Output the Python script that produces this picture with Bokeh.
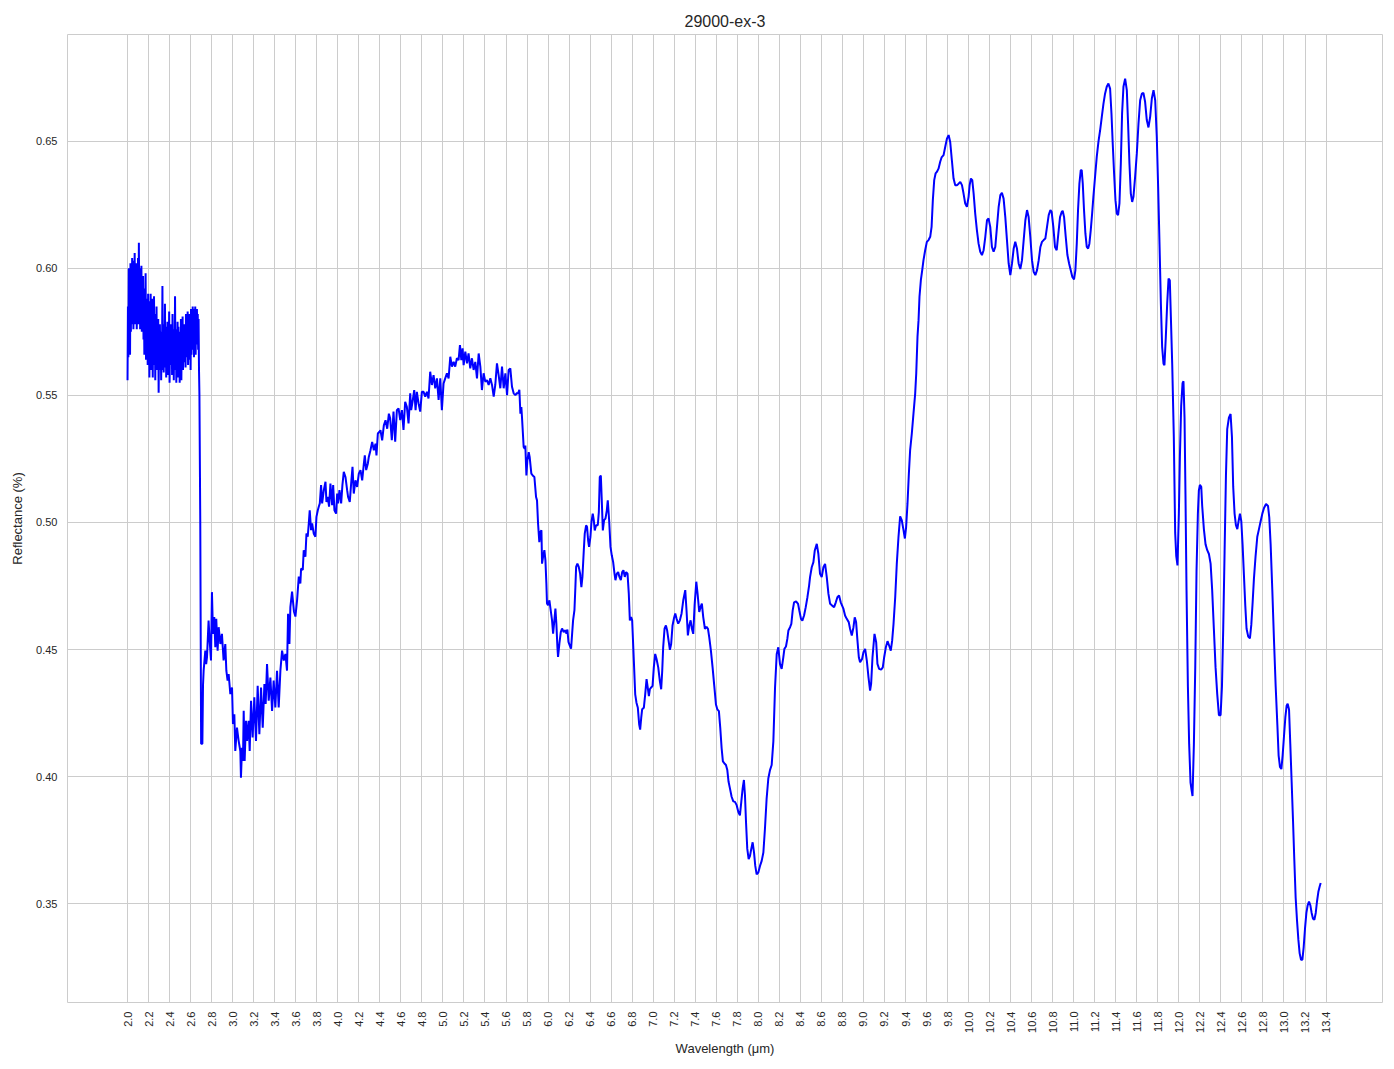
from bokeh.plotting import figure
from bokeh.models import FixedTicker, PrintfTickFormatter, Range1d, ColumnDataSource
from bokeh.embed import file_html
from bokeh.resources import INLINE
import math

TITLE = "29000-ex-3"
X_LABEL = "Wavelength (μm)"
Y_LABEL = "Reflectance (%)"

x_ticks = [2.0, 2.2, 2.4, 2.6, 2.8, 3.0, 3.2, 3.4, 3.6, 3.8, 4.0, 4.2, 4.4, 4.6, 4.8, 5.0,
           5.2, 5.4, 5.6, 5.8, 6.0, 6.2, 6.4, 6.6, 6.8, 7.0, 7.2, 7.4, 7.6, 7.8, 8.0, 8.2,
           8.4, 8.6, 8.8, 9.0, 9.2, 9.4, 9.6, 9.8, 10.0, 10.2, 10.4, 10.6, 10.8, 11.0, 11.2,
           11.4, 11.6, 11.8, 12.0, 12.2, 12.4, 12.6, 12.8, 13.0, 13.2, 13.4]
y_ticks = [0.35, 0.40, 0.45, 0.50, 0.55, 0.60, 0.65]

# (wavelength um, reflectance)
seg_noisy_start = [
    (2.000, 0.556), (2.004, 0.585), (2.008, 0.565), (2.012, 0.600), (2.016, 0.572), (2.020, 0.598),
    (2.024, 0.566), (2.028, 0.602), (2.032, 0.575), (2.036, 0.600), (2.040, 0.578), (2.044, 0.604),
    (2.048, 0.580), (2.052, 0.598), (2.056, 0.576), (2.060, 0.603), (2.064, 0.585), (2.068, 0.606),
    (2.072, 0.578), (2.076, 0.600), (2.080, 0.582), (2.084, 0.602), (2.088, 0.576), (2.092, 0.597),
    (2.096, 0.584), (2.100, 0.604), (2.104, 0.578), (2.108, 0.610), (2.112, 0.582), (2.116, 0.600),
    (2.120, 0.576), (2.124, 0.596), (2.128, 0.583), (2.132, 0.601), (2.136, 0.575), (2.140, 0.594),
    (2.144, 0.580), (2.148, 0.597), (2.152, 0.572), (2.156, 0.590), (2.160, 0.566), (2.164, 0.592),
    (2.168, 0.574), (2.172, 0.598), (2.176, 0.564), (2.180, 0.588), (2.184, 0.570), (2.188, 0.586),
    (2.192, 0.562), (2.196, 0.590), (2.200, 0.568), (2.204, 0.587), (2.208, 0.557), (2.212, 0.585),
    (2.216, 0.566), (2.220, 0.590), (2.224, 0.560), (2.228, 0.583), (2.232, 0.568), (2.236, 0.588),
    (2.240, 0.557), (2.244, 0.580), (2.248, 0.565), (2.252, 0.589), (2.256, 0.562), (2.260, 0.578),
    (2.264, 0.556), (2.268, 0.582), (2.272, 0.566), (2.276, 0.585), (2.280, 0.560), (2.284, 0.577),
    (2.288, 0.564), (2.292, 0.580), (2.296, 0.551), (2.300, 0.573), (2.304, 0.560), (2.308, 0.578),
    (2.312, 0.562), (2.316, 0.575), (2.320, 0.556), (2.324, 0.572), (2.328, 0.565), (2.332, 0.593),
    (2.336, 0.560), (2.340, 0.578), (2.344, 0.559), (2.348, 0.574), (2.352, 0.565), (2.356, 0.586),
    (2.360, 0.561), (2.364, 0.577), (2.368, 0.557), (2.372, 0.573), (2.376, 0.563), (2.380, 0.579),
    (2.384, 0.558), (2.388, 0.576), (2.392, 0.566), (2.396, 0.583), (2.400, 0.555), (2.404, 0.574),
    (2.408, 0.562), (2.412, 0.578), (2.416, 0.566), (2.420, 0.575), (2.424, 0.558), (2.428, 0.582),
    (2.432, 0.564), (2.436, 0.576), (2.440, 0.556), (2.444, 0.573), (2.448, 0.565), (2.452, 0.589),
    (2.456, 0.560), (2.460, 0.576), (2.464, 0.555), (2.468, 0.574), (2.472, 0.563), (2.476, 0.579),
    (2.480, 0.557), (2.484, 0.577), (2.488, 0.562), (2.492, 0.575), (2.496, 0.555), (2.500, 0.572),
    (2.504, 0.562), (2.508, 0.580), (2.512, 0.556), (2.516, 0.574), (2.520, 0.565), (2.524, 0.581),
    (2.528, 0.560), (2.532, 0.575), (2.536, 0.566), (2.540, 0.578), (2.544, 0.563), (2.548, 0.574),
    (2.552, 0.561), (2.556, 0.582), (2.560, 0.565), (2.564, 0.577), (2.568, 0.568), (2.572, 0.583),
    (2.576, 0.562), (2.580, 0.575), (2.584, 0.566), (2.588, 0.582), (2.592, 0.564), (2.596, 0.580),
    (2.600, 0.560), (2.604, 0.584), (2.608, 0.566), (2.612, 0.582), (2.616, 0.568), (2.620, 0.585),
    (2.624, 0.570), (2.628, 0.582), (2.632, 0.565), (2.636, 0.584), (2.640, 0.572), (2.644, 0.585),
    (2.648, 0.566), (2.652, 0.583), (2.656, 0.570), (2.660, 0.584), (2.664, 0.574), (2.668, 0.582),
    (2.672, 0.568), (2.676, 0.580), (2.680, 0.560), (2.684, 0.550), (2.692, 0.500), (2.700, 0.413),
    (2.712, 0.413), (2.718, 0.436),
]

seg_trough = [
    (2.724, 0.4417), (2.740, 0.4496), (2.748, 0.4443), (2.756, 0.4470), (2.771, 0.4614), (2.781, 0.4536),
    (2.794, 0.4457), (2.803, 0.4726), (2.813, 0.4562), (2.825, 0.4628), (2.835, 0.4509), (2.844, 0.4621),
    (2.857, 0.4496), (2.867, 0.4588), (2.883, 0.4522), (2.898, 0.4562), (2.914, 0.4457), (2.930, 0.4522),
    (2.940, 0.4417), (2.952, 0.4378), (2.962, 0.4404), (2.978, 0.4325), (2.994, 0.4351), (3.003, 0.4207),
    (3.016, 0.4246), (3.025, 0.4101), (3.041, 0.4193), (3.057, 0.4141), (3.073, 0.4101), (3.079, 0.3996),
    (3.089, 0.4114), (3.098, 0.4062), (3.105, 0.4259), (3.114, 0.4062), (3.127, 0.4220), (3.137, 0.4141),
    (3.152, 0.4220), (3.162, 0.4101), (3.175, 0.4299), (3.190, 0.4154), (3.206, 0.4312), (3.222, 0.4141),
    (3.238, 0.4358), (3.254, 0.4167), (3.270, 0.4351), (3.286, 0.4193), (3.302, 0.4364), (3.314, 0.4286),
    (3.327, 0.4443), (3.343, 0.4299), (3.359, 0.4390), (3.375, 0.4259), (3.390, 0.4378), (3.406, 0.4272),
    (3.422, 0.4417), (3.438, 0.4272), (3.454, 0.4417), (3.470, 0.4496), (3.486, 0.4457), (3.502, 0.4483),
    (3.517, 0.4417), (3.527, 0.4641), (3.540, 0.4522), (3.549, 0.4667),
]

seg_rise = [
    (3.565, 0.4728), (3.583, 0.4650), (3.597, 0.4630), (3.613, 0.4695), (3.629, 0.4787), (3.644, 0.4760),
    (3.651, 0.4819), (3.667, 0.4813), (3.676, 0.4891), (3.692, 0.4865), (3.702, 0.4957), (3.714, 0.4944),
    (3.724, 0.4996), (3.733, 0.5048), (3.746, 0.4970), (3.756, 0.4996), (3.771, 0.4957), (3.787, 0.4944),
    (3.797, 0.5022), (3.810, 0.5048), (3.819, 0.5062), (3.829, 0.5075), (3.841, 0.5147), (3.851, 0.5075),
    (3.867, 0.5127), (3.883, 0.5160), (3.892, 0.5081), (3.905, 0.5101), (3.917, 0.5062), (3.930, 0.5153),
    (3.946, 0.5068), (3.956, 0.5147), (3.968, 0.5048), (3.984, 0.5035), (3.994, 0.5114), (4.003, 0.5075),
    (4.016, 0.5127), (4.032, 0.5075), (4.044, 0.5147), (4.057, 0.5199), (4.073, 0.5179), (4.089, 0.5127),
    (4.098, 0.5101), (4.114, 0.5081), (4.127, 0.5153), (4.140, 0.5219), (4.152, 0.5114), (4.168, 0.5166),
    (4.184, 0.5140), (4.200, 0.5192), (4.216, 0.5206), (4.232, 0.5166), (4.248, 0.5232), (4.257, 0.5264),
    (4.270, 0.5206), (4.286, 0.5232), (4.295, 0.5258), (4.311, 0.5284), (4.327, 0.5317), (4.343, 0.5284),
    (4.359, 0.5310), (4.368, 0.5264), (4.381, 0.5350), (4.394, 0.5356), (4.406, 0.5363), (4.422, 0.5323),
    (4.438, 0.5382), (4.454, 0.5402), (4.470, 0.5369), (4.486, 0.5428),
]

seg_plateau = [
    (4.498, 0.5410), (4.514, 0.5324), (4.530, 0.5436), (4.546, 0.5318), (4.562, 0.5442), (4.578, 0.5449),
    (4.594, 0.5403), (4.610, 0.5442), (4.625, 0.5364), (4.641, 0.5475), (4.657, 0.5455), (4.673, 0.5390),
    (4.689, 0.5508), (4.698, 0.5442), (4.711, 0.5475), (4.727, 0.5521), (4.740, 0.5442), (4.752, 0.5514),
    (4.768, 0.5469), (4.784, 0.5436), (4.800, 0.5514), (4.816, 0.5514), (4.832, 0.5495), (4.848, 0.5514),
    (4.863, 0.5488), (4.879, 0.5593), (4.895, 0.5541), (4.911, 0.5580), (4.927, 0.5528), (4.943, 0.5567),
    (4.959, 0.5482), (4.975, 0.5567), (4.990, 0.5442), (5.006, 0.5547), (5.022, 0.5567), (5.038, 0.5587),
    (5.054, 0.5567), (5.070, 0.5652), (5.086, 0.5613), (5.102, 0.5632), (5.117, 0.5613), (5.133, 0.5646),
    (5.149, 0.5639), (5.162, 0.5698), (5.175, 0.5639), (5.187, 0.5685), (5.197, 0.5619), (5.213, 0.5672),
    (5.229, 0.5626), (5.244, 0.5665), (5.260, 0.5606), (5.276, 0.5646), (5.292, 0.5600), (5.308, 0.5632),
    (5.324, 0.5567), (5.340, 0.5665), (5.356, 0.5613), (5.371, 0.5521), (5.387, 0.5587), (5.403, 0.5554),
    (5.419, 0.5560), (5.435, 0.5541), (5.451, 0.5567), (5.467, 0.5541), (5.483, 0.5495), (5.498, 0.5541),
    (5.514, 0.5626), (5.530, 0.5580), (5.546, 0.5528), (5.562, 0.5613), (5.578, 0.5528), (5.594, 0.5587),
    (5.610, 0.5501), (5.625, 0.5600), (5.641, 0.5606), (5.657, 0.5534), (5.673, 0.5508), (5.689, 0.5501),
]

seg_descent = [
    (5.705, 0.5510), (5.714, 0.5507), (5.727, 0.5522), (5.737, 0.5428), (5.746, 0.5454), (5.752, 0.5415),
    (5.768, 0.5297), (5.778, 0.5290), (5.784, 0.5303), (5.794, 0.5185), (5.803, 0.5244), (5.816, 0.5277),
    (5.825, 0.5258), (5.841, 0.5192), (5.854, 0.5185), (5.870, 0.5179), (5.886, 0.5100), (5.895, 0.5087),
    (5.905, 0.4995), (5.917, 0.4923), (5.927, 0.4963), (5.937, 0.4969), (5.943, 0.4838), (5.952, 0.4864),
    (5.965, 0.4891), (5.975, 0.4851), (5.984, 0.4760), (5.990, 0.4681), (6.000, 0.4674), (6.013, 0.4694),
    (6.025, 0.4655), (6.038, 0.4615), (6.048, 0.4563), (6.060, 0.4615), (6.070, 0.4661), (6.079, 0.4602),
    (6.089, 0.4510), (6.095, 0.4471), (6.108, 0.4524), (6.121, 0.4569), (6.133, 0.4583), (6.149, 0.4569),
    (6.165, 0.4576), (6.175, 0.4563), (6.184, 0.4579), (6.194, 0.4530), (6.206, 0.4517), (6.219, 0.4504),
    (6.229, 0.4563), (6.238, 0.4615), (6.251, 0.4655), (6.260, 0.4746), (6.267, 0.4825), (6.279, 0.4838),
    (6.292, 0.4825), (6.305, 0.4799), (6.317, 0.4746), (6.327, 0.4786), (6.340, 0.4891), (6.349, 0.4956),
    (6.362, 0.4989), (6.371, 0.4982), (6.381, 0.4930), (6.390, 0.4904), (6.403, 0.4943), (6.413, 0.5002),
    (6.425, 0.5035), (6.435, 0.5009), (6.444, 0.4969), (6.457, 0.4989), (6.473, 0.4989), (6.483, 0.5041),
    (6.492, 0.5179), (6.502, 0.5185), (6.511, 0.5087), (6.521, 0.4969), (6.533, 0.5009), (6.546, 0.5015),
    (6.559, 0.5048), (6.568, 0.5087), (6.581, 0.5009), (6.594, 0.4904), (6.606, 0.4871), (6.619, 0.4845),
    (6.632, 0.4799), (6.641, 0.4773), (6.654, 0.4799), (6.667, 0.4805), (6.679, 0.4786), (6.692, 0.4773),
    (6.705, 0.4805), (6.717, 0.4812), (6.730, 0.4786), (6.743, 0.4805), (6.756, 0.4799), (6.768, 0.4720),
    (6.778, 0.4615), (6.790, 0.4628), (6.800, 0.4615),
]

seg_dip = [
    (6.816, 0.4456), (6.829, 0.4324), (6.841, 0.4291), (6.854, 0.4271), (6.867, 0.4205), (6.876, 0.4185),
    (6.886, 0.4231), (6.895, 0.4265), (6.911, 0.4271), (6.924, 0.4324), (6.937, 0.4384), (6.946, 0.4357),
    (6.959, 0.4317), (6.968, 0.4344), (6.981, 0.4351), (6.994, 0.4357), (7.006, 0.4430), (7.019, 0.4483),
    (7.032, 0.4463), (7.048, 0.4430), (7.063, 0.4377), (7.076, 0.4344), (7.086, 0.4417), (7.095, 0.4509),
    (7.108, 0.4582), (7.121, 0.4595), (7.133, 0.4575), (7.146, 0.4536), (7.159, 0.4499), (7.171, 0.4522),
    (7.184, 0.4595), (7.197, 0.4622), (7.210, 0.4642), (7.222, 0.4622), (7.238, 0.4602), (7.254, 0.4615),
    (7.270, 0.4642), (7.286, 0.4694), (7.305, 0.4734), (7.317, 0.4655), (7.330, 0.4556), (7.343, 0.4595),
    (7.356, 0.4615), (7.368, 0.4582), (7.381, 0.4562), (7.394, 0.4675), (7.410, 0.4767), (7.422, 0.4721),
    (7.438, 0.4648), (7.451, 0.4668), (7.463, 0.4681), (7.476, 0.4628), (7.492, 0.4582), (7.508, 0.4589),
    (7.521, 0.4582), (7.533, 0.4549), (7.549, 0.4496), (7.565, 0.4430), (7.581, 0.4357), (7.597, 0.4284),
    (7.610, 0.4265), (7.625, 0.4258), (7.638, 0.4192), (7.651, 0.4112), (7.663, 0.4060), (7.676, 0.4053),
    (7.692, 0.4046), (7.705, 0.4026), (7.717, 0.3980), (7.730, 0.3954), (7.746, 0.3921), (7.762, 0.3903),
    (7.778, 0.3901), (7.794, 0.3888), (7.810, 0.3861), (7.825, 0.3848), (7.838, 0.3901), (7.851, 0.3954),
    (7.863, 0.3987), (7.873, 0.3927), (7.883, 0.3821), (7.895, 0.3716), (7.908, 0.3676), (7.921, 0.3689),
    (7.933, 0.3716), (7.946, 0.3742), (7.959, 0.3702), (7.971, 0.3649), (7.984, 0.3616), (8.000, 0.3623),
    (8.016, 0.3649), (8.032, 0.3669), (8.048, 0.3702), (8.063, 0.3795), (8.079, 0.3914), (8.095, 0.3993),
    (8.111, 0.4026), (8.127, 0.4046), (8.143, 0.4139), (8.159, 0.4351), (8.175, 0.4483), (8.190, 0.4509),
]

seg_mid = [
    (8.206, 0.4444), (8.222, 0.4424), (8.238, 0.4470), (8.248, 0.4503), (8.263, 0.4512), (8.276, 0.4542),
    (8.286, 0.4575), (8.302, 0.4588), (8.314, 0.4601), (8.327, 0.4654), (8.340, 0.4686), (8.359, 0.4690),
    (8.378, 0.4680), (8.390, 0.4654), (8.406, 0.4621), (8.419, 0.4614), (8.435, 0.4634), (8.451, 0.4667),
    (8.467, 0.4706), (8.483, 0.4752), (8.492, 0.4785), (8.508, 0.4824), (8.524, 0.4844), (8.537, 0.4890),
    (8.556, 0.4916), (8.571, 0.4877), (8.587, 0.4798), (8.603, 0.4785), (8.619, 0.4824), (8.635, 0.4837),
    (8.651, 0.4785), (8.667, 0.4719), (8.683, 0.4680), (8.702, 0.4673), (8.721, 0.4667), (8.737, 0.4686),
    (8.752, 0.4706), (8.768, 0.4713), (8.784, 0.4686), (8.797, 0.4673), (8.810, 0.4660), (8.825, 0.4634),
    (8.841, 0.4621), (8.860, 0.4608), (8.873, 0.4581), (8.889, 0.4555), (8.905, 0.4588), (8.917, 0.4627),
    (8.930, 0.4608), (8.943, 0.4535), (8.956, 0.4470), (8.968, 0.4450), (8.987, 0.4463), (9.000, 0.4490),
    (9.016, 0.4503), (9.032, 0.4457), (9.048, 0.4391), (9.063, 0.4339), (9.073, 0.4365), (9.086, 0.4470),
    (9.105, 0.4562), (9.121, 0.4529), (9.133, 0.4444), (9.149, 0.4424), (9.168, 0.4421), (9.184, 0.4430),
    (9.197, 0.4470), (9.213, 0.4509), (9.229, 0.4533), (9.244, 0.4516), (9.260, 0.4496), (9.273, 0.4535),
    (9.286, 0.4601), (9.302, 0.4706), (9.317, 0.4837), (9.333, 0.4942), (9.349, 0.5024), (9.365, 0.5008),
]

seg_high = [
    (9.381, 0.4970), (9.394, 0.4937), (9.406, 0.4983), (9.419, 0.5075), (9.432, 0.5193), (9.444, 0.5285),
    (9.460, 0.5350), (9.476, 0.5429), (9.492, 0.5507), (9.502, 0.5586), (9.514, 0.5730), (9.524, 0.5796),
    (9.533, 0.5888), (9.546, 0.5953), (9.559, 0.5993), (9.571, 0.6032), (9.587, 0.6071), (9.603, 0.6104),
    (9.619, 0.6111), (9.635, 0.6124), (9.648, 0.6163), (9.660, 0.6268), (9.673, 0.6347), (9.686, 0.6373),
    (9.698, 0.6379), (9.714, 0.6392), (9.730, 0.6419), (9.743, 0.6436), (9.762, 0.6445), (9.778, 0.6478),
    (9.794, 0.6510), (9.810, 0.6524), (9.825, 0.6497), (9.841, 0.6425), (9.857, 0.6353), (9.873, 0.6327),
    (9.889, 0.6327), (9.905, 0.6333), (9.921, 0.6340), (9.937, 0.6327), (9.952, 0.6294), (9.968, 0.6255),
    (9.984, 0.6242), (10.000, 0.6281), (10.010, 0.6327), (10.022, 0.6353), (10.035, 0.6347), (10.048, 0.6294),
    (10.063, 0.6215), (10.079, 0.6150), (10.095, 0.6097), (10.111, 0.6065), (10.127, 0.6052), (10.143, 0.6071),
    (10.159, 0.6124), (10.175, 0.6189), (10.190, 0.6196), (10.206, 0.6163), (10.222, 0.6084), (10.238, 0.6065),
    (10.254, 0.6084), (10.270, 0.6163), (10.286, 0.6242), (10.302, 0.6288), (10.317, 0.6297), (10.333, 0.6274),
    (10.349, 0.6202), (10.365, 0.6111), (10.381, 0.6019), (10.397, 0.5973), (10.413, 0.6019), (10.429, 0.6078),
    (10.444, 0.6104), (10.460, 0.6078), (10.476, 0.6019), (10.492, 0.5997), (10.508, 0.6032), (10.524, 0.6111),
    (10.540, 0.6189), (10.556, 0.6229), (10.571, 0.6202), (10.587, 0.6124), (10.603, 0.6032), (10.619, 0.5986),
    (10.635, 0.5973), (10.651, 0.5993), (10.667, 0.6032), (10.683, 0.6084), (10.698, 0.6104), (10.714, 0.6111),
    (10.730, 0.6117), (10.746, 0.6163), (10.762, 0.6209), (10.778, 0.6229),
]

seg_peaks = [
    (10.790, 0.6222), (10.806, 0.6163), (10.822, 0.6084), (10.838, 0.6071), (10.854, 0.6137), (10.870, 0.6202),
    (10.886, 0.6222), (10.895, 0.6226), (10.908, 0.6202), (10.924, 0.6124), (10.940, 0.6052), (10.956, 0.6019),
    (10.971, 0.5993), (10.987, 0.5966), (11.003, 0.5956), (11.016, 0.5993), (11.029, 0.6097), (11.041, 0.6229),
    (11.054, 0.6333), (11.067, 0.6386), (11.076, 0.6386), (11.086, 0.6333), (11.098, 0.6229), (11.111, 0.6137),
    (11.124, 0.6084), (11.137, 0.6078), (11.149, 0.6097), (11.162, 0.6150), (11.175, 0.6215), (11.187, 0.6281),
    (11.203, 0.6360), (11.219, 0.6438), (11.235, 0.6497), (11.251, 0.6543), (11.267, 0.6596), (11.283, 0.6648),
    (11.298, 0.6687), (11.314, 0.6714), (11.330, 0.6727), (11.346, 0.6707), (11.359, 0.6609), (11.371, 0.6491),
    (11.384, 0.6373), (11.397, 0.6268), (11.410, 0.6215), (11.422, 0.6209), (11.435, 0.6255), (11.448, 0.6412),
    (11.460, 0.6609), (11.473, 0.6714), (11.489, 0.6746), (11.505, 0.6701), (11.517, 0.6569), (11.530, 0.6412),
    (11.543, 0.6294), (11.556, 0.6261), (11.568, 0.6281), (11.584, 0.6360), (11.600, 0.6451), (11.616, 0.6569),
    (11.632, 0.6661), (11.648, 0.6687), (11.663, 0.6690), (11.679, 0.6655), (11.695, 0.6583), (11.711, 0.6554),
    (11.727, 0.6596), (11.743, 0.6668), (11.759, 0.6701), (11.775, 0.6661), (11.790, 0.6517), (11.803, 0.6320),
    (11.816, 0.6097), (11.829, 0.5861), (11.841, 0.5691), (11.854, 0.5625), (11.863, 0.5619), (11.876, 0.5730),
    (11.889, 0.5861), (11.902, 0.5960), (11.914, 0.5953), (11.924, 0.5809),
]

seg_tail = [
    (11.937, 0.5620), (11.952, 0.5337), (11.965, 0.4959), (11.975, 0.4869), (11.987, 0.4831), (12.000, 0.5035),
    (12.010, 0.5261), (12.022, 0.5458), (12.035, 0.5548), (12.044, 0.5556), (12.054, 0.5412), (12.063, 0.5110),
    (12.073, 0.4733), (12.086, 0.4355), (12.098, 0.4128), (12.111, 0.3977), (12.121, 0.3947), (12.130, 0.3924),
    (12.143, 0.4128), (12.156, 0.4431), (12.168, 0.4808), (12.181, 0.5035), (12.190, 0.5125), (12.200, 0.5148),
    (12.213, 0.5140), (12.222, 0.5065), (12.238, 0.4974), (12.254, 0.4914), (12.270, 0.4891), (12.286, 0.4876),
    (12.302, 0.4838), (12.317, 0.4733), (12.333, 0.4582), (12.349, 0.4431), (12.365, 0.4325), (12.381, 0.4242),
    (12.397, 0.4242), (12.410, 0.4355), (12.422, 0.4582), (12.435, 0.4884), (12.448, 0.5186), (12.460, 0.5367),
    (12.476, 0.5412), (12.492, 0.5427), (12.505, 0.5337), (12.517, 0.5140), (12.530, 0.5035), (12.543, 0.4989),
    (12.556, 0.4974), (12.568, 0.5005), (12.581, 0.5035), (12.594, 0.5005), (12.606, 0.4914), (12.619, 0.4793),
    (12.632, 0.4672), (12.644, 0.4582), (12.660, 0.4551), (12.676, 0.4544), (12.689, 0.4597), (12.702, 0.4687),
    (12.714, 0.4778), (12.730, 0.4869), (12.746, 0.4944), (12.762, 0.4974), (12.778, 0.5005), (12.794, 0.5035),
    (12.810, 0.5057), (12.829, 0.5073), (12.848, 0.5065), (12.860, 0.5020), (12.873, 0.4914), (12.889, 0.4733),
    (12.905, 0.4536), (12.921, 0.4355), (12.937, 0.4204), (12.949, 0.4083), (12.962, 0.4038), (12.975, 0.4030),
    (12.987, 0.4083), (13.000, 0.4159), (13.013, 0.4234), (13.025, 0.4279), (13.035, 0.4287), (13.048, 0.4264),
    (13.060, 0.4128), (13.073, 0.3977), (13.086, 0.3826), (13.098, 0.3675), (13.111, 0.3524), (13.124, 0.3434),
    (13.137, 0.3358), (13.149, 0.3305), (13.162, 0.3280), (13.175, 0.3280), (13.187, 0.3328), (13.200, 0.3403),
    (13.213, 0.3464), (13.225, 0.3494), (13.238, 0.3509), (13.251, 0.3494), (13.263, 0.3464), (13.276, 0.3441),
    (13.289, 0.3437), (13.302, 0.3464), (13.314, 0.3509), (13.327, 0.3547), (13.340, 0.3569), (13.349, 0.3582),
]

segments = [seg_noisy_start, seg_trough, seg_rise, seg_plateau, seg_descent,
            seg_dip, seg_mid, seg_high, seg_peaks, seg_tail]
wavelength = [pt[0] for seg in segments for pt in seg]
reflectance = [pt[1] for seg in segments for pt in seg]

FONT = "Liberation Sans"
TEXT = "#262626"
GRID = "#cccccc"

p = figure(
    frame_width=1315, frame_height=968,
    x_range=Range1d(1.4291, 13.937), y_range=Range1d(0.31117, 0.69197),
    output_backend="svg", toolbar_location=None,
    min_border_left=67, min_border_right=8, min_border_top=34, min_border_bottom=55,
    title=TITLE,
)
p.background_fill_color = "white"
p.border_fill_color = "white"
p.outline_line_color = GRID
p.outline_line_width = 1

p.title.align = "center"
p.title.text_font = FONT
p.title.text_font_size = "16px"
p.title.text_font_style = "normal"
p.title.text_color = TEXT
p.title.standoff = 10

src = ColumnDataSource(data=dict(x=wavelength, y=reflectance))
p.line("x", "y", source=src, line_color="#0000ff", line_width=2)

p.xaxis.ticker = FixedTicker(ticks=x_ticks)
p.yaxis.ticker = FixedTicker(ticks=y_ticks)
p.xaxis.formatter = PrintfTickFormatter(format="%.1f")
p.yaxis.formatter = PrintfTickFormatter(format="%.2f")
p.xaxis.major_label_orientation = math.pi / 2

for ax in (p.xaxis, p.yaxis):
    ax.axis_line_color = None
    ax.major_tick_line_color = None
    ax.minor_tick_line_color = None
    ax.major_tick_in = 0
    ax.major_tick_out = 0
    ax.minor_tick_in = 0
    ax.minor_tick_out = 0
    ax.major_label_text_font = FONT
    ax.major_label_text_font_size = "11px"
    ax.major_label_text_color = TEXT
    ax.axis_label_text_font = FONT
    ax.axis_label_text_font_size = "13px"
    ax.axis_label_text_font_style = "normal"
    ax.axis_label_text_color = TEXT

p.xaxis.axis_label = X_LABEL
p.yaxis.axis_label = Y_LABEL
p.xaxis.major_label_standoff = 9
p.yaxis.major_label_standoff = 10
p.xaxis.axis_label_standoff = 5
p.yaxis.axis_label_standoff = 8

p.xgrid.grid_line_color = GRID
p.ygrid.grid_line_color = GRID
p.xgrid.grid_line_width = 1
p.ygrid.grid_line_width = 1

open("out.html", "w").write(file_html(p, INLINE))
